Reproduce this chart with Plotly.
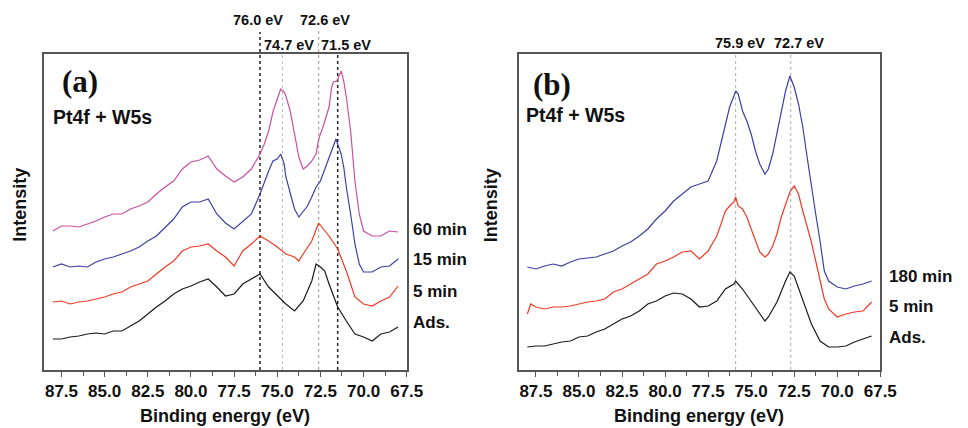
import plotly.graph_objects as go

# ---------------- data ----------------
# Panel (a)
a60_E = [88, 87.5, 87, 86.5, 86, 85.5, 85, 84.5, 84, 83.5, 83, 82.5, 82, 81.5, 81, 80.5, 80, 79.5, 79, 78.5,
         78, 77.5, 77, 76.5,
         76.0, 75.75, 75.5, 75.25, 75.0, 74.8, 74.6, 74.5, 74.25, 74.0, 73.75, 73.5, 73.25, 73.0, 72.75, 72.6,
         72.35, 72.0, 71.85, 71.75, 71.55, 71.3, 71.15, 71.0, 70.75, 70.5, 70.25, 70.0,
         69.5, 69, 68.5, 68]
a60_I = [139, 144, 144, 143, 146, 149, 153, 156, 156, 161, 164, 168, 176, 183, 189, 201, 208, 210, 214, 201,
         194, 188, 193, 201,
         216, 226, 239, 258, 271, 281, 278, 274, 259, 236, 213, 201, 204, 209, 216, 231,
         243, 263, 283, 288, 289, 299, 289, 273, 239, 189, 156, 139,
         134, 134, 139, 138]

a15_E = [88, 87.5, 87, 86.5, 86, 85.5, 85, 84.5, 84, 83.5, 83, 82.5, 82, 81.5, 81, 80.5, 80, 79.5, 79, 78.5,
         78, 77.5, 77, 76.5,
         76.0, 75.75, 75.5, 75.25, 75.0, 74.8, 74.6, 74.5, 74.25, 74.0, 73.75, 73.5, 73.25, 73.0, 72.75, 72.5,
         72.25, 72.0, 71.75, 71.6, 71.5, 71.3, 71.15, 71.0, 70.75, 70.5, 70.25, 70.0,
         69.5, 69, 68.5, 68]
a15_I = [103, 106, 103, 104, 103, 108, 111, 113, 116, 119, 123, 129, 134, 143, 151, 163, 168, 168, 171, 156,
         147, 141, 149, 156,
         176, 188, 199, 209, 211, 216, 206, 193, 176, 161, 153, 158, 164, 173, 183, 189,
         201, 213, 224, 231, 226, 216, 203, 183, 156, 126, 106, 98,
         98, 103, 104, 111]

a5_E = [88, 87.5, 87, 86.5, 86, 85.5, 85, 84.5, 84, 83.5, 83, 82.5, 82, 81.5, 81, 80.5, 80, 79.5, 79, 78.5, 78,
        77.5, 77, 76.5, 76, 75.5, 75, 74.5, 74, 73.75, 73.5, 73, 72.6, 72, 71.5, 71, 70.5, 70, 69.5, 69, 68.5, 68]
a5_I = [68, 69, 66, 68, 69, 71, 73, 76, 78, 83, 86, 89, 96, 103, 109, 119, 123, 124, 126, 119, 113,
        104, 119, 126, 134, 129, 123, 116, 113, 109, 116, 129, 147, 134, 121, 99, 73, 66, 64, 69, 73, 84]

aAds_E = [88, 87.5, 87, 86.5, 86, 85.5, 85, 84.5, 84, 83.5, 83, 82.5, 82, 81.5, 81, 80.5, 80, 79.5, 79, 78.5, 78,
          77.5, 77, 76.5, 76, 75.5, 75, 74.5, 74, 73.5, 73, 72.75, 72.5, 72.25, 72, 71.5, 71, 70.5, 70, 69.5, 69,
          68.5, 68]
aAds_I = [31, 31, 33, 34, 36, 37, 36, 39, 39, 44, 49, 56, 63, 69, 76, 81, 84, 88, 91, 83, 74,
          76, 86, 91, 96, 83, 74, 66, 59, 69, 89, 106, 103, 99, 86, 63, 49, 36, 33, 29, 36, 38, 43]

# Panel (b)
b180_E = [88, 87.5, 87, 86.5, 86, 85.5, 85, 84.5, 84, 83.5, 83, 82.5, 82, 81.5, 81, 80.5, 80, 79.5, 79, 78.5, 78,
          77.5,
          77, 76.75, 76.5, 76.25, 76, 75.9, 75.75, 75.5, 75.25, 75, 74.75, 74.5, 74.2, 74, 73.75, 73.5, 73.25, 73,
          72.75, 72.5, 72.25, 72, 71.75, 71.5, 71.25, 71, 70.75, 70.5,
          70, 69.5, 69, 68.5, 68]
b180_I = [103, 101, 104, 106, 104, 108, 111, 112, 113, 116, 119, 124, 128, 134, 141, 151, 159, 169, 176, 183, 186,
          189,
          209, 226, 243, 263, 274, 279, 276, 259, 249, 236, 219, 206, 196, 201, 216, 236, 259, 279,
          294, 283, 266, 243, 213, 183, 156, 129, 99, 89,
          83, 81, 84, 86, 89]

b5_E = [88, 87.8, 87.5, 87, 86.5, 86, 85.5, 85, 84.5, 84, 83.5, 83, 82.5, 82, 81.5, 81, 80.5, 80, 79.5, 79, 78.5, 78,
        77.5,
        77, 76.75, 76.5, 76.25, 76, 75.9, 75.75, 75.5, 75.25, 75, 74.75, 74.5, 74.2, 74, 73.75, 73.5, 73.25, 73,
        72.75, 72.5, 72.25, 72, 71.75, 71.5, 71.25, 71, 70.75, 70.5,
        70, 69.5, 69, 68.5, 68]
b5_I = [56, 66, 63, 61, 63, 63, 64, 66, 68, 69, 71, 78, 81, 86, 91, 96, 106, 109, 113, 118, 119, 111,
        119,
        134, 146, 159, 164, 168, 173, 164, 161, 153, 141, 129, 118, 113, 116, 124, 136, 153, 166,
        178, 184, 176, 159, 143, 128, 109, 89, 71, 61,
        53, 56, 58, 59, 68]

bAds_E = [88, 87.5, 87, 86.5, 86, 85.5, 85, 84.5, 84, 83.5, 83, 82.5, 82, 81.5, 81, 80.5, 80, 79.5, 79, 78.5, 78,
          77.5, 77, 76.5, 76, 75.9, 75.5, 75, 74.5, 74.2, 74, 73.5, 73, 72.75, 72.5, 72, 71.5, 71, 70.5, 70, 69.5,
          69, 68.5, 68]
bAds_I = [23, 24, 24, 26, 28, 29, 33, 34, 38, 41, 46, 51, 54, 59, 66, 69, 74, 77, 76, 71, 63,
          64, 69, 81, 86, 89, 81, 69, 56, 49, 53, 68, 89, 98, 94, 69, 46, 29, 23, 23, 24,
          28, 31, 34]

series_a = [("60 min", a60_E, a60_I, "#c9509f"), ("15 min", a15_E, a15_I, "#3d3fa3"),
            ("5 min", a5_E, a5_I, "#ef3a26"), ("Ads.", aAds_E, aAds_I, "#1a1a1a")]
series_b = [("180 min", b180_E, b180_I, "#3d3fa3"), ("5 min", b5_E, b5_I, "#ef3a26"),
            ("Ads.", bAds_E, bAds_I, "#1a1a1a")]

# right-hand curve labels (intensity level of each label)
labels_a_y = [141, 111, 79, 48]
labels_b_y = [94, 64, 33]

# reference peak positions (eV)
peaks_a = [76.0, 74.7, 72.6, 71.5]
peaks_b = [75.9, 72.7]

tick_vals = [87.5, 85.0, 82.5, 80.0, 77.5, 75.0, 72.5, 70.0, 67.5]
x_range = [88.5, 67.5]
y_range = [0, 316]

# ---------------- figure ----------------
W, H = 968, 428
SANS = "Liberation Sans, Arial, sans-serif"
SERIF = "Liberation Serif, Times New Roman, serif"
FRAME = "#555555"

def px_x(p):
    return p / W

def px_y(p):
    return 1 - p / H

fig = go.Figure()
for name, E, I, c in series_a:
    fig.add_trace(go.Scatter(x=E, y=I, mode="lines", line=dict(color=c, width=1.2),
                             xaxis="x", yaxis="y", showlegend=False, name=name))
for name, E, I, c in series_b:
    fig.add_trace(go.Scatter(x=E, y=I, mode="lines", line=dict(color=c, width=1.2),
                             xaxis="x2", yaxis="y2", showlegend=False, name=name))

y_dom = [px_y(370), px_y(54)]
xa_common = dict(range=x_range, tickvals=tick_vals, ticktext=[f"<b>{v:.1f}</b>" for v in tick_vals],
                 ticks="outside", ticklen=5, tickwidth=1.2, tickcolor=FRAME,
                 minor=dict(dtick=1.25, tick0=67.5, ticks="outside", ticklen=4, tickwidth=1.2, tickcolor=FRAME),
                 showline=True, mirror=True, linecolor=FRAME, linewidth=1.5, showgrid=False, zeroline=False,
                 tickfont=dict(family=SANS, size=17, color="#111111"))
ya_common = dict(range=y_range, showline=True, mirror=True, linecolor=FRAME, linewidth=1.5,
                 showticklabels=False, ticks="", showgrid=False, zeroline=False, domain=y_dom)

fig.update_layout(
    width=W, height=H, margin=dict(l=0, r=0, t=0, b=0),
    paper_bgcolor="white", plot_bgcolor="white",
    xaxis=dict(domain=[px_x(45), px_x(414)], anchor="y", **xa_common),
    yaxis=dict(anchor="x", **ya_common),
    xaxis2=dict(domain=[px_x(528), px_x(896)], anchor="y2", **xa_common),
    yaxis2=dict(anchor="x2", **ya_common),
)

shapes = []
# panel (a) reference lines: (top pixel, colour, width)
line_style_a = [(32, "#222222", 1.5), (54, "#bbbbbb", 1.0), (30, "#999999", 1.0), (54, "#222222", 1.5)]
for v, (top, col, w) in zip(peaks_a, line_style_a):
    shapes.append(dict(type="line", xref="x", yref="paper", x0=v, x1=v, y0=px_y(370), y1=px_y(top),
                       line=dict(color=col, width=w, dash="dot"), layer="below"))
for v in peaks_b:
    shapes.append(dict(type="line", xref="x2", yref="paper", x0=v, x1=v, y0=px_y(370), y1=px_y(55),
                       line=dict(color="#aaaaaa", width=1.0, dash="dot"), layer="below"))
fig.update_layout(shapes=shapes)

ann = []
# peak labels
label_pos_a = [(20, -2), (45, 7), (20, 6), (45, 8)]
for v, (yp, xs) in zip(peaks_a, label_pos_a):
    ann.append(dict(text=f"<b>{v:.1f} eV</b>", xref="x", yref="paper", x=v, y=px_y(yp), xshift=xs,
                    showarrow=False, font=dict(family=SANS, size=14.5, color="#111111"),
                    xanchor="center", yanchor="middle"))
for v, xs in zip(peaks_b, [4, 8]):
    ann.append(dict(text=f"<b>{v:.1f} eV</b>", xref="x2", yref="paper", x=v, y=px_y(43), xshift=xs,
                    showarrow=False, font=dict(family=SANS, size=14.5, color="#111111"),
                    xanchor="center", yanchor="middle"))

# curve labels
for (name, _, _, _), yv in zip(series_a, labels_a_y):
    ann.append(dict(text=f"<b>{name}</b>", xref="paper", yref="y", x=px_x(418), y=yv, showarrow=False,
                    font=dict(family=SANS, size=17, color="#111111"), xanchor="left", yanchor="middle"))
for (name, _, _, _), yv in zip(series_b, labels_b_y):
    ann.append(dict(text=f"<b>{name}</b>", xref="paper", yref="y2", x=px_x(903), y=yv, showarrow=False,
                    font=dict(family=SANS, size=17, color="#111111"), xanchor="left", yanchor="middle"))

# panel letters and element labels
for txt, cx, cy in [("(a)", 81, 82), ("(b)", 562, 84)]:
    ann.append(dict(text=f"<b>{txt}</b>", xref="paper", yref="paper", x=px_x(cx), y=px_y(cy),
                    showarrow=False, font=dict(family=SERIF, size=31, color="#111111"),
                    xanchor="center", yanchor="middle"))
for lx, ly in [(52, 117), (533, 115)]:
    ann.append(dict(text="<b>Pt4f + W5s</b>", xref="paper", yref="paper", x=px_x(lx), y=px_y(ly),
                    showarrow=False, font=dict(family=SANS, size=19.5, color="#111111"),
                    xanchor="left", yanchor="middle"))

# axis titles
for cx in [229.5, 712]:
    ann.append(dict(text="<b>Binding energy (eV)</b>", xref="paper", yref="paper", x=px_x(cx), y=px_y(416),
                    showarrow=False, font=dict(family=SANS, size=18, color="#111111"),
                    xanchor="center", yanchor="middle"))
for cx in [20, 500]:
    ann.append(dict(text="<b>Intensity</b>", xref="paper", yref="paper", x=px_x(cx), y=px_y(205),
                    showarrow=False, textangle=-90, font=dict(family=SANS, size=18, color="#111111"),
                    xanchor="center", yanchor="middle"))

fig.update_layout(annotations=ann)

fig.write_html("out.html")
